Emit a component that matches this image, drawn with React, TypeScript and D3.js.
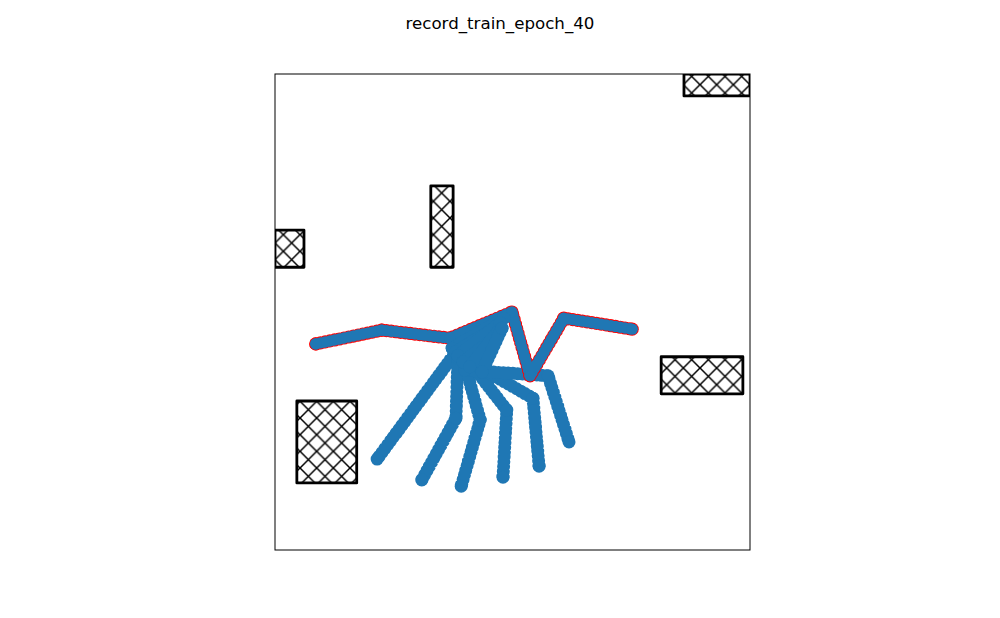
import React from 'react';
import * as d3 from 'd3';

const TITLE = 'record_train_epoch_40';

// obstacles as [xmin, ymin, xmax, ymax] in environment units
const obstacles: [number, number, number, number][] = [
  [8.61, 9.54, 10.0, 10.0],
  [0.0, 5.94, 0.61, 6.72],
  [3.28, 5.94, 3.75, 7.65],
  [8.13, 3.28, 9.85, 4.06],
  [0.46, 1.41, 1.72, 3.13],
];

// highlighted trajectory (red edge)
const bestPath: [number, number][] = [
  [0.86, 4.33], [2.25, 4.62], [3.68, 4.45], [4.99, 5.0], [5.37, 3.66], [6.08, 4.87], [7.52, 4.64],
];

// rollouts heading down from the start area
const lowerRollouts: [number, number][][] = [
  [[3.81, 4.16], [2.15, 1.91]],
  [[3.85, 4.03], [3.81, 2.77], [3.09, 1.47]],
  [[3.94, 4.10], [4.32, 2.73], [3.92, 1.34]],
  [[4.06, 3.99], [4.88, 2.94], [4.80, 1.53]],
  [[4.21, 3.89], [5.43, 3.19], [5.56, 1.76]],
  [[4.00, 3.78], [5.75, 3.66], [6.19, 2.27]],
];

// rollouts bunched up under the best path
const fanRollouts: [number, number][][] = [
  [[3.73, 4.24], [4.82, 4.87]],
  [[3.80, 4.16], [4.68, 4.70]],
  [[3.85, 4.08], [4.74, 4.77]],
  [[3.96, 3.95], [4.67, 4.50]],
  [[4.10, 3.85], [4.70, 4.60]],
  [[4.36, 3.74], [4.78, 4.66]],
];

const W = 1000;
const H = 618;
const BLUE = '#1f77b4';
const DOT_GAP = 4.8;

export default function App() {
  const x = d3.scaleLinear().domain([0, 10]).range([275, 750]);
  const y = d3.scaleLinear().domain([0, 10]).range([550, 74]);
  const line = d3.line<[number, number]>().x(d => x(d[0])).y(d => y(d[1]));

  const hatch = 100 / 6;

  const dots = (pts: [number, number][], color: string, size: number, key: string) => (
    <g key={key}>
      <path
        d={line(pts) || ''}
        fill="none"
        stroke={color}
        strokeWidth={size}
        strokeLinecap="round"
        strokeDasharray={`0 ${DOT_GAP}`}
      />
      {pts.map((p, i) => (
        <circle key={i} cx={x(p[0])} cy={y(p[1])} r={size / 2} fill={color} />
      ))}
    </g>
  );

  return (
    <svg width={W} height={H} style={{ position: 'absolute', left: 0, top: 0, background: '#fff' }}>
      <defs>
        <clipPath id="axclip">
          <rect x={275} y={74} width={475} height={476} />
        </clipPath>
        <pattern id="xhatch" patternUnits="userSpaceOnUse" x={0} y={H % hatch} width={hatch} height={hatch}>
          <rect width={hatch} height={hatch} fill="#fff" />
          <path
            d={`M-2,-2L${hatch + 2},${hatch + 2}M-2,${hatch + 2}L${hatch + 2},-2`}
            stroke="#000"
            strokeWidth={1.5}
          />
        </pattern>
      </defs>

      <text
        x={500}
        y={29}
        textAnchor="middle"
        fontFamily="DejaVu Sans"
        fontSize={16.67}
        fill="#000"
      >
        {TITLE}
      </text>

      <g clipPath="url(#axclip)">
        {obstacles.map((o, i) => (
          <rect
            key={i}
            x={x(o[0])}
            y={y(o[3])}
            width={x(o[2]) - x(o[0])}
            height={y(o[1]) - y(o[3])}
            fill="url(#xhatch)"
            stroke="#000"
            strokeWidth={2.8}
            strokeLinejoin="round"
          />
        ))}

        {lowerRollouts.map((r, i) => dots(r, BLUE, 13, `low${i}`))}

        {dots(bestPath, 'red', 13.2, 'bestEdge')}
        {dots(bestPath, BLUE, 11.4, 'bestFace')}

        {fanRollouts.map((r, i) => dots(r, BLUE, 13, `fan${i}`))}
      </g>

      <rect x={275} y={74} width={475} height={476} fill="none" stroke="#000" strokeWidth={1} />
    </svg>
  );
}
